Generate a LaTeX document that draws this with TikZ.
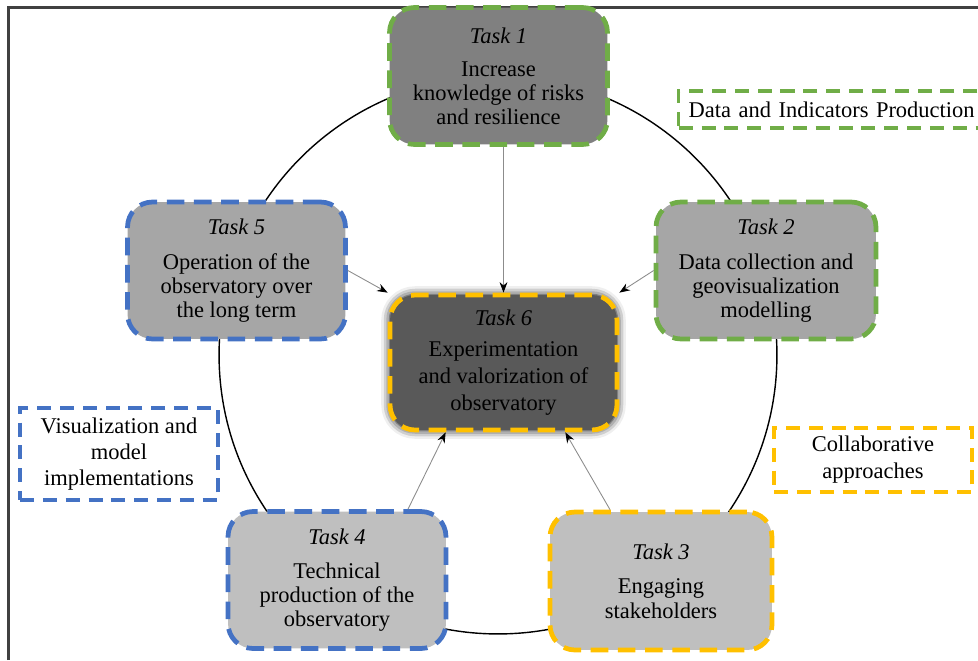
\documentclass[tikz,border=0pt]{standalone}
\usepackage{fontspec}
\setmainfont{Liberation Serif}
\newfontfamily\timesfont{Liberation Serif}
\usetikzlibrary{arrows.meta,calc,shadows.blur}
\definecolor{taskgreen}{HTML}{70AD47}
\definecolor{taskblue}{HTML}{4472C4}
\definecolor{taskyellow}{HTML}{FFC000}

\begin{document}
\begin{tikzpicture}[x=0.02cm, y=-0.02cm,
  txt/.style={font=\timesfont\fontsize{12.8}{13.7}\selectfont, align=center},
  task/.style={txt, rounded corners=0.5cm, minimum width=4.36cm, minimum height=2.74cm, inner sep=2pt, line width=2.7pt, dash pattern=on 10pt off 5.5pt},
  legend/.style={txt, line width=1.9pt, dash pattern=on 8pt off 5pt},
  link/.style={black!45, line width=0.5pt, -{Stealth[length=6pt, width=4.5pt, black]}}]
  \useasboundingbox (0,0) rectangle (978,660);
  \draw[black!75, line width=1.2pt] (8.5,660) -- (8.5,7.5) -- (978,7.5);
  \coordinate (ring) at (498,355);
  \draw[line width=0.8pt] (ring) circle[radius=5.58cm];
  \node[task, draw=taskgreen, fill=black!50] (t1) at (498.5,76) {\textit{Task 1}\\[5pt]Increase\\knowledge of risks\\and resilience};
  \node[task, draw=taskgreen, fill=black!35, minimum width=4.4cm] (t2) at (766,270.5) {\textit{Task 2}\\[6pt]Data collection and\\geovisualization\\modelling};
  \node[task, draw=taskyellow, fill=black!25, minimum width=4.44cm, minimum height=2.76cm] (t3) at (661,581) {\textit{Task 3}\\[6pt]Engaging\\stakeholders};
  \node[task, draw=taskblue, fill=black!25] (t4) at (337,580) {\textit{Task 4}\\[6pt]Technical\\production of the\\observatory};
  \node[task, draw=taskblue, fill=black!35] (t5) at (236.5,270.5) {\textit{Task 5}\\[6pt]Operation of the\\observatory over\\the long term};
  \node[task, draw=taskyellow, fill=black!65, minimum width=4.54cm, minimum height=2.7cm, font=\timesfont\fontsize{12.8}{15.4}\selectfont, blur shadow={shadow xshift=0pt, shadow yshift=0pt, shadow blur radius=5pt, shadow opacity=100}] (t6) at (503.5,362.5) {\textit{Task 6}\\[2pt]Experimentation\\and valorization of\\observatory};
  \node[legend, draw=taskgreen, anchor=west, text width=6.1cm, align=left, inner xsep=0.2cm, minimum height=0.74cm] (lgreen) at (677,109.5) {Data and Indicators Production};
  \node[legend, draw=taskblue, minimum width=3.96cm, minimum height=1.84cm, font=\timesfont\fontsize{12.8}{15}\selectfont] (lblue) at (119,454) {Visualization and\\model\\implementations};
  \node[legend, draw=taskyellow, minimum width=3.96cm, minimum height=1.28cm, font=\timesfont\fontsize{12.8}{15.4}\selectfont] (lyellow) at (873,460) {Collaborative\\approaches};
  \draw[link] (t1.south -| t6.north) -- (t6.north);
  \draw[link] (t5.east) -- (t6.north west);
  \draw[link] (t2.west) -- (t6.north east);
  \draw[link] ($(t4.north)+(71,0)$) -- ($(t6.south west)+(58,0)$);
  \draw[link] ($(t3.north)+(-51,0)$) -- ($(t6.south east)+(-54,0)$);
\end{tikzpicture}
\end{document}
